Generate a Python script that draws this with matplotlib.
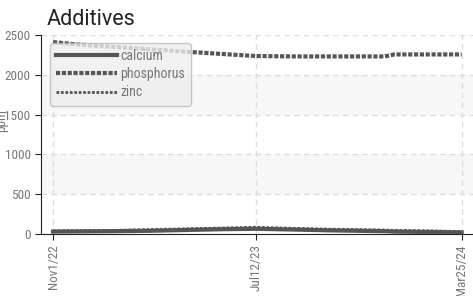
import matplotlib
matplotlib.use("Agg")
import matplotlib.pyplot as plt
import matplotlib.dates as mdates
from matplotlib import font_manager
from datetime import datetime

dates = ["2022-11-01", "2022-12-01", "2023-01-15", "2023-03-01", "2023-04-15",
         "2023-06-01", "2023-07-12", "2023-09-01", "2023-10-15", "2023-12-20",
         "2024-01-01", "2024-02-15", "2024-03-25"]
calcium = [30, 32, 35, 40, 50, 60, 65, 55, 45, 35, 30, 25, 20]
phosphorus = [2410, 2380, 2350, 2320, 2290, 2260, 2235, 2230, 2230, 2230, 2255, 2255, 2255]
zinc = [40, 42, 45, 55, 65, 75, 85, 70, 60, 50, 45, 40, 30]
tick_dates = ["2022-11-01", "2023-07-12", "2024-03-25"]
tick_labels = ["Nov1/22", "Jul12/23", "Mar25/24"]

names = {f.name for f in font_manager.fontManager.ttflist}
cond = [n for n in ["Roboto Condensed", "Open Sans Condensed", "Liberation Sans Narrow", "DejaVu Sans Condensed"] if n in names]
tick_family = cond[:1] + ['Roboto', 'DejaVu Sans']

plt.rcParams['font.family'] = ['Roboto', 'DejaVu Sans']

x = mdates.date2num([datetime.strptime(d, "%Y-%m-%d") for d in dates])
xt = mdates.date2num([datetime.strptime(d, "%Y-%m-%d") for d in tick_dates])

fig = plt.figure(figsize=(4.73, 2.96), dpi=100)
ax = fig.add_axes([0.0867, 0.2095, 0.913, 0.6725])

for lo, hi in [(500, 1000), (1500, 2000)]:
    ax.axhspan(lo, hi, color="#f7f7f7", zorder=0, lw=0)

c = "#555555"
ax.plot(x, calcium, color=c, lw=3, ls="-", label="calcium", zorder=3)
ax.plot(x, phosphorus, color=c, lw=3, ls=(0, (1, 0.4)), label="phosphorus", zorder=3)
ax.plot(x, zinc, color=c, lw=2, ls=(0, (1, 0.6)), label="zinc", zorder=3)

ax.set_ylim(0, 2500)
ax.set_xlim(x[0] - 15, x[-1] + 14)
ax.set_yticks([0, 500, 1000, 1500, 2000, 2500])
ax.set_xticks(xt)
ax.set_xticklabels(tick_labels, rotation=90)

ax.grid(True, color="#dddddd", ls=(0, (4, 3)), lw=1)
ax.set_axisbelow(True)
for s in ["top", "right"]:
    ax.spines[s].set_visible(False)
ax.spines["left"].set_color("#222222")
ax.spines["bottom"].set_color("#222222")
ax.tick_params(colors="#222222", labelcolor="#777777", labelsize=9.5, length=4)
for lab in ax.get_xticklabels() + ax.get_yticklabels():
    lab.set_family(tick_family)

ax.set_ylabel("ppm", color="#777777", fontsize=9.5, family=tick_family)
ax.yaxis.set_label_coords(-0.077, 0.57)
ax.set_title("Additives", loc="left", fontsize=15.5, color="#222222", x=0.012, pad=7)

leg = ax.legend(loc="upper left", bbox_to_anchor=(0.021, 0.96), borderaxespad=0,
                handlelength=4.4, fancybox=True, framealpha=0.8, facecolor="#eeeeee",
                edgecolor="#bbbbbb", labelspacing=0.3, handletextpad=0.2,
                borderpad=0.45, prop={'family': tick_family, 'size': 10})
for t in leg.get_texts():
    t.set_color("#777777")

fig.savefig("out.png", dpi=100)
